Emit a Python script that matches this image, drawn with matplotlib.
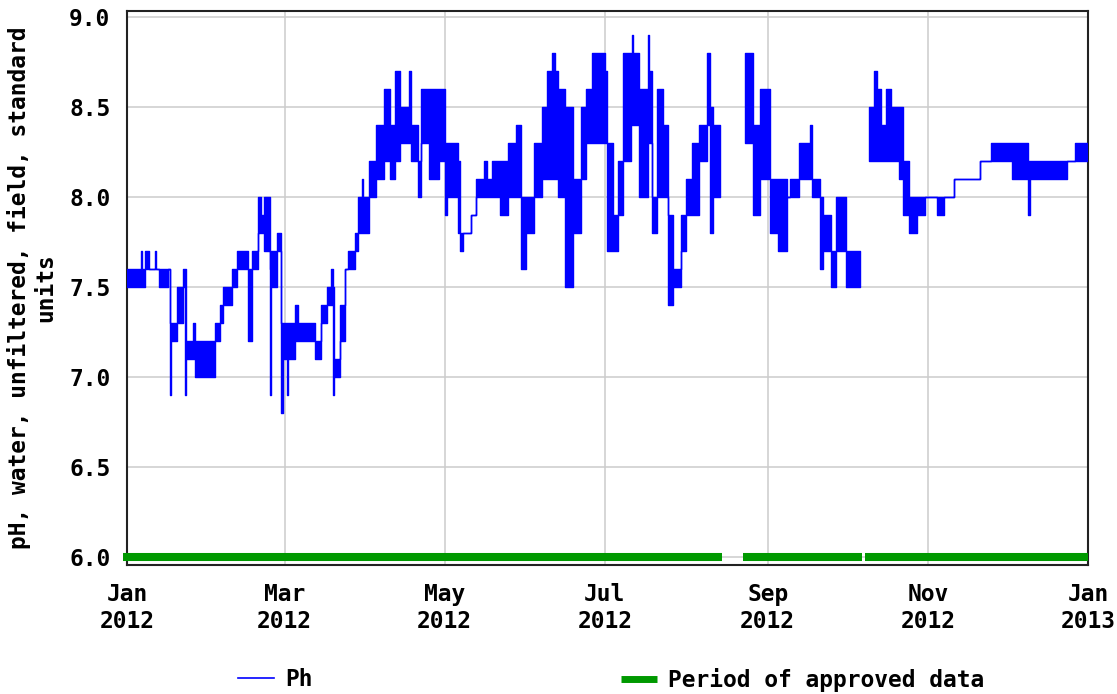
#!/usr/bin/env python3

import numpy as np
import matplotlib.pyplot as plt
import matplotlib.dates as mdates
from matplotlib.lines import Line2D

# pH record, read off the chart as blocks: each block starts at day_of_year
# (days after 2012-01-01) and spans the range ph_low..ph_high until the next block
day_of_year = [
    0, 5.5, 5.9, 7, 8.5, 10.8, 11.2, 12, 15.5, 16.3, 16.8, 19, 21.5, 22, 22.5, 25,
    26, 33.5, 35.5, 36.5,
    40, 42, 46, 47.5, 50, 51, 52, 54.5, 55, 57, 58.8, 59.3, 60.8, 61.3, 64, 65,
    71.6, 74, 76, 77.8, 78.3, 78.8, 81, 83, 84, 87, 88, 89.5, 90, 92, 95, 98,
    100, 102, 104, 107.5, 108, 111, 112, 115, 119, 121, 122, 126, 127, 128, 131,
    133, 136, 137, 139, 142, 145, 148, 150, 152, 155, 158, 160, 162, 163, 164,
    167, 170, 173, 175, 177, 182, 183, 185, 187, 189, 192, 192.3, 192.7, 195,
    198.5, 198.9, 200, 202, 204, 206, 208, 211, 213, 215, 218, 221, 222, 223,
    225.9, 235.5,
    238.5, 241, 245, 248, 251.5, 252.5, 256, 260, 261, 264, 265, 268, 270, 274,
    279.2, 282.5, 284.5, 285.5, 287, 289, 291, 294, 295.5, 298, 301, 304, 308.5,
    311, 315, 325, 329, 337, 343.3, 344, 358, 361,
]
ph_low = [
    7.5, 7.5, 7.5, 7.6, 7.6, 7.6, 7.6, 7.5, 7.6, 6.9, 7.2, 7.3, 7.5, 6.9, 7.1, 7.1,
    7.0, 7.2, 7.3, 7.4,
    7.5, 7.6, 7.2, 7.6, 7.8, 7.8, 7.7, 6.9, 7.5, 7.7, 6.8, 7.1, 6.9, 7.1, 7.2, 7.2,
    7.1, 7.3, 7.4, 7.4, 6.9, 7.0, 7.2, 7.6, 7.6, 7.7, 7.8, 7.8, 7.8, 8.0, 8.1, 8.2,
    8.1, 8.2, 8.3, 8.3, 8.2, 8.0, 8.3, 8.1, 8.2, 7.9, 8.0, 7.8, 7.7, 7.8, 7.9,
    8.0, 8.0, 8.0, 8.0, 7.9, 8.0, 8.0, 7.6, 7.8, 8.0, 8.1, 8.1, 8.1, 8.1, 8.0,
    7.5, 7.8, 8.1, 8.3, 8.3, 8.3, 7.7, 7.7, 7.9, 8.2, 8.4, 8.4, 8.4, 8.0,
    8.3, 8.3, 7.8, 8.0, 8.0, 7.4, 7.5, 7.7, 7.9, 7.9, 8.2, 8.4, 7.8, 8.0,
    np.nan, 8.3,
    7.9, 8.1, 7.8, 7.7, 8.0, 8.0, 8.1, 8.1, 8.0, 7.6, 7.7, 7.5, 7.7, 7.5,
    np.nan, 8.2, 8.2, 8.2, 8.2, 8.2, 8.2, 8.1, 7.9, 7.8, 7.9, 8.0, 7.9,
    8.0, 8.1, 8.2, 8.2, 8.1, 7.9, 8.1, 8.2, 8.2,
]
ph_high = [
    7.6, 7.7, 7.6, 7.7, 7.6, 7.7, 7.6, 7.6, 7.6, 7.3, 7.3, 7.5, 7.6, 7.6, 7.2, 7.3,
    7.2, 7.3, 7.4, 7.5,
    7.6, 7.7, 7.6, 7.7, 8.0, 7.9, 8.0, 7.6, 7.7, 7.8, 7.3, 7.3, 7.3, 7.3, 7.4, 7.3,
    7.2, 7.4, 7.5, 7.6, 7.5, 7.1, 7.4, 7.6, 7.7, 7.8, 8.0, 8.1, 8.0, 8.2, 8.4, 8.6,
    8.4, 8.7, 8.5, 8.7, 8.4, 8.2, 8.6, 8.6, 8.6, 8.3, 8.3, 8.2, 7.8, 7.8, 7.9,
    8.1, 8.2, 8.1, 8.2, 8.2, 8.3, 8.4, 8.0, 8.0, 8.3, 8.5, 8.7, 8.8, 8.7, 8.6,
    8.5, 8.1, 8.5, 8.6, 8.8, 8.7, 8.3, 7.9, 8.2, 8.8, 8.8, 8.9, 8.8, 8.6,
    8.9, 8.7, 8.0, 8.6, 8.4, 7.9, 7.6, 7.9, 8.1, 8.3, 8.4, 8.8, 8.5, 8.4,
    np.nan, 8.8,
    8.4, 8.6, 8.1, 8.1, 8.0, 8.1, 8.3, 8.4, 8.1, 8.0, 7.9, 7.7, 8.0, 7.7,
    np.nan, 8.5, 8.7, 8.6, 8.4, 8.6, 8.5, 8.5, 8.2, 8.0, 8.0, 8.0, 8.0,
    8.0, 8.1, 8.2, 8.3, 8.3, 8.2, 8.2, 8.2, 8.3,
]

# periods of approved data (days after 2012-01-01)
approved_start = [-1.5, 234.6, 281.0]
approved_end = [226.6, 279.9, 366.0]

year_start = np.datetime64('2012-01-01T00:00')


def to_dates(days):
    return year_start + np.round(np.asarray(days, float) * 1440).astype('timedelta64[m]')


def main():
    plt.rcParams['font.family'] = 'DejaVu Sans Mono'
    plt.rcParams['font.weight'] = 'bold'
    plt.rcParams['font.size'] = 16.5

    fig = plt.figure(figsize=(11.17, 6.94), dpi=100)
    ax = fig.add_axes([127 / 1117, 1 - 565 / 694, 961 / 1117, 554 / 694])

    # expand blocks to explicit start/end pairs
    starts = np.array(day_of_year, float)
    ends = np.append(starts[1:], 366.0)
    x = to_dates(np.column_stack([starts, ends]).ravel())
    lo = np.repeat(ph_low, 2)
    hi = np.repeat(ph_high, 2)
    ax.fill_between(x, lo, hi, facecolor='#0000ff', edgecolor='#0000ff',
                    linewidth=1.0, zorder=3)

    ax.hlines([6.0] * len(approved_start), to_dates(approved_start),
              to_dates(approved_end), colors='#009900', linewidth=5.8,
              capstyle='butt', clip_on=False, zorder=4)

    ax.set_xlim(to_dates([0])[0], to_dates([366])[0])
    ax.set_ylim(5.956, 9.033)
    ax.set_yticks(np.arange(6.0, 9.01, 0.5))
    ax.yaxis.set_major_formatter(plt.FormatStrFormatter('%.1f'))
    ax.xaxis.set_major_locator(mdates.MonthLocator(bymonth=[1, 3, 5, 7, 9, 11]))
    ax.xaxis.set_major_formatter(mdates.DateFormatter('%b\n%Y'))
    ax.tick_params(axis='both', length=0)
    ax.tick_params(axis='y', pad=12)
    ax.tick_params(axis='x', pad=13)
    ax.grid(True, color='#cccccc', linewidth=1.1, zorder=0)
    ax.set_axisbelow(True)
    for side in ax.spines.values():
        side.set_linewidth(1.5)
        side.set_color('#222222')

    fig.text(32 / 1117, 1 - 288 / 694,
             'pH, water, unfiltered, field, standard\nunits',
             rotation=90, ha='center', va='center', multialignment='center',
             linespacing=1.15)

    ph_handle = Line2D([], [], color='#0000ff', linewidth=1.2)
    ok_handle = Line2D([], [], color='#009900', linewidth=5.0,
                       solid_capstyle='butt')
    fig.legend(handles=[ph_handle], labels=['Ph'], loc='center left',
               bbox_to_anchor=(238 / 1117, 1 - 680 / 694), frameon=False,
               borderpad=0, borderaxespad=0, handlelength=1.55,
               handletextpad=0.5)
    fig.legend(handles=[ok_handle], labels=['Period of approved data'],
               loc='center left', bbox_to_anchor=(621 / 1117, 1 - 680 / 694),
               frameon=False, borderpad=0, borderaxespad=0,
               handlelength=1.55, handletextpad=0.5)

    fig.savefig('out.png', dpi=100)


if __name__ == '__main__':
    main()
